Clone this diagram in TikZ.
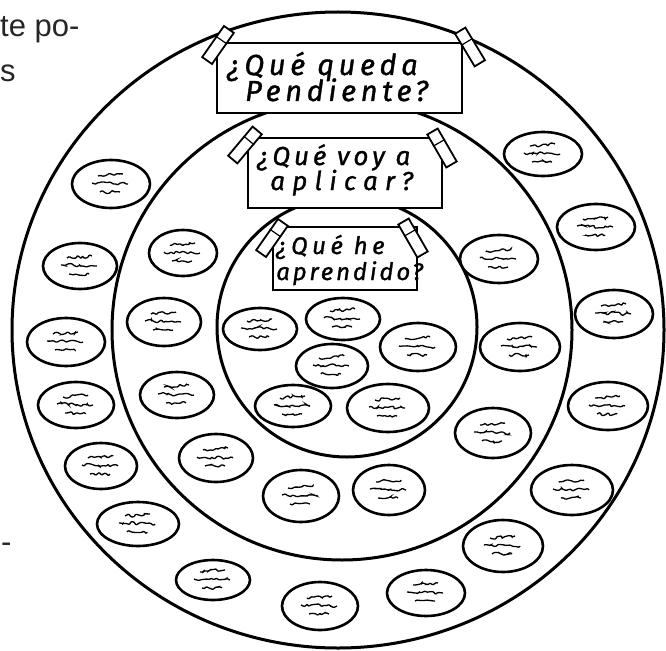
\documentclass[tikz,border=0pt]{standalone}
\usepackage{fontspec}
\setmainfont{Liberation Sans}
\newfontfamily\hand{Fira Sans}
\newcommand{\hfnt}[2]{\hand\itshape\fontsize{#1}{#1}\selectfont\addfontfeatures{LetterSpace=#2,FakeBold=1.2}}
\usetikzlibrary{shapes.geometric,decorations.pathmorphing,calc}
\begin{document}
\pgfmathsetseed{7}
\begin{tikzpicture}[x=1pt,y=-1pt,
 ring/.style={draw, ellipse, line width=3pt, inner sep=0pt},
 oval/.style={draw, ellipse, line width=2.6pt, inner sep=0pt, fill=white},
 scrib/.style={line width=1.3pt, rounded corners=0.8pt, decorate, decoration={random steps, segment length=2.6pt, amplitude=1.7pt}},
 signbox/.style={draw, rectangle, line width=2.6pt, fill=white, inner sep=0pt},
 tape/.style={draw, rectangle, line width=1.8pt, fill=white, minimum width=12pt, minimum height=38pt, inner sep=0pt},
 lbl/.style={anchor=base west, inner sep=0pt},
 page/.style={anchor=base west, inner sep=0pt, text=black!85, font=\fontsize{31}{36}\selectfont}]
\useasboundingbox (0,0) rectangle (666,650);

% rings
\node[ring, minimum width=652pt, minimum height=636pt] (outer) at (338,330) {};
\node[ring, minimum width=460pt, minimum height=460pt] (middle) at (342,330) {};
\node[ring, minimum width=260pt, minimum height=260pt] (inner) at (347,327) {};

% ovals with scribbles
\foreach \n/\x/\y/\a/\b in {
  o1/111/184/39/24, o2/80/266/37/23, o3/66/342/39/24, o4/76/405/38/23,
  o5/101/466/36/23, o6/138/524/41/22, o7/213/580/37/20, o8/320/606/38/24,
  o9/426/593/39/23, o10/503/546/40/26, o11/572/490/41/25, o12/608/406/40/24,
  o13/614/314/39/24, o14/596/227/39/23, o15/543/154/39/22,
  o16/183/253/34/23, o17/164/322/37/24, o18/177/395/37/23, o19/216/458/37/24,
  o20/301/496/38/26, o21/389/490/36/25, o22/493/433/38/25, o23/520/347/40/24,
  o24/499/259/39/24,
  o25/260/329/37/21, o26/343/319/37/21, o27/418/347/38/24, o28/332/366/36/22,
  o29/293/406/38/21, o30/388/408/41/24}{
  \node[oval, minimum width={2*\a*1pt}, minimum height={2*\b*1pt}] (\n) at (\x,\y) {};
  \draw[scrib] ([shift={(-13,-8)}]\n.center) -- ([shift={(12,-10)}]\n.center);
  \draw[scrib] ([shift={(-19,-1)}]\n.center) -- ([shift={(17,0)}]\n.center);
  \draw[scrib] ([shift={(-11,8)}]\n.center) -- ([shift={(9,8)}]\n.center);
}

% signs
\node[signbox, minimum width=245pt, minimum height=70pt] (s1) at (339.5,78) {};
\node[signbox, minimum width=194pt, minimum height=70pt] (s2) at (345,173) {};
\node[signbox, minimum width=144pt, minimum height=63pt] (s3) at (345,258.5) {};

\node[lbl, font=\hfnt{29}{16}] (s1a) at (227,75) {¿Qué queda};
\node[lbl, font=\hfnt{29}{16}] (s1b) at (245,101) {Pendiente?};
\node[lbl, font=\hfnt{26}{15}] (s2a) at (257,165) {¿Qué voy a};
\node[lbl, font=\hfnt{26}{28}] (s2b) at (270,190) {aplicar?};
\node[lbl, font=\hfnt{24}{19}] (s3a) at (276,254) {¿Qué he};
\node[lbl, font=\hfnt{24}{12}] (s3b) at (276,280) {aprendido?};

% tapes
\foreach \n/\x/\y/\r in {t1/218/45/-35, t2/470/47/31, t3/245/145/-40, t4/442/148/30, t5/272/238/-35, t6/413/238/30}{
  \node[tape, rotate=\r] (\n) at (\x,\y) {};
  \draw[line width=1.2pt] ($(\n.north west)!0.35!(\n.south west)$) -- ($(\n.north east)!0.35!(\n.south east)$);
}

% page text fragments
\node[page] (p1) at (0,37) {te po-};
\node[page] (p2) at (0,82) {s};
\node[page] (p3) at (1,552) {-};
\end{tikzpicture}
\end{document}
